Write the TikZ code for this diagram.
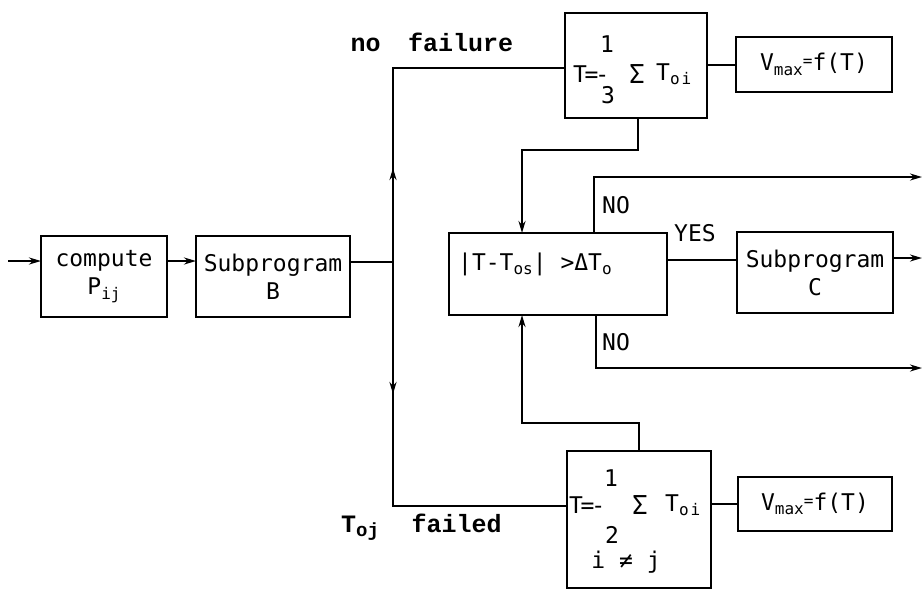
\documentclass[tikz,border=0pt]{standalone}
\usepackage{fontspec}
\newfontfamily\plotfont{DejaVu Sans Mono}
\newfontfamily\typefont{Liberation Mono}
\usetikzlibrary{arrows.meta,decorations.markings}
\newcommand{\lsub}[1]{\raisebox{-0.35ex}{\fontsize{16}{16}\selectfont #1}}
\newcommand{\hsup}[1]{\raisebox{0.35ex}{\fontsize{16}{16}\selectfont #1}}
\begin{document}
\begin{tikzpicture}[x=1pt,y=-1pt,
  box/.style={draw, line width=2pt, inner sep=0pt, outer sep=0pt, anchor=north west,
    align=center, font=\plotfont\fontsize{23}{28}\selectfont},
  txt/.style={inner sep=0pt, font=\plotfont\fontsize{23}{28}\selectfont},
  sig/.style={inner sep=0pt, font=\plotfont\fontsize{26}{28}\selectfont},
  lbl/.style={inner sep=0pt, font=\typefont\bfseries\fontsize{25}{28}\selectfont},
  ln/.style={line width=2pt},
  arr/.style={line width=2pt, -{Stealth[length=12pt,width=7pt]}},
  tip/.style={line width=2pt, postaction={decorate}, decoration={markings,
    mark=at position #1 with {\arrow{Stealth[length=12pt,width=7pt]}}}}
]
\useasboundingbox (0,0) rectangle (924,590);

% boxes
\node[box, minimum width=126pt, minimum height=81pt] (b1) at (41,236) {compute\\P\lsub{ij}};
\node[box, minimum width=154pt, minimum height=81pt] (b2) at (196,236) {Subprogram\\B};
\node[box, minimum width=142pt, minimum height=105pt] (ftop) at (565,13) {};
\node[box, minimum width=156pt, minimum height=55pt] (vtop) at (736,37) {V\lsub{max}\hsup{=}f(T)};
\node[box, minimum width=218pt, minimum height=82pt] (dec) at (449,233) {};
\node[box, minimum width=156pt, minimum height=81pt] (c) at (737,232) {Subprogram\\C};
\node[box, minimum width=144pt, minimum height=137pt] (fbot) at (567,451) {};
\node[box, minimum width=154pt, minimum height=54pt] (vbot) at (738,477) {V\lsub{max}\hsup{=}f(T)};

% texts inside
\node[txt, anchor=west] (dtext) at (458,264) {|T-T\lsub{os}| >ΔT\lsub{o}};
\node[txt] (tone) at (607,44) {1};
\node[txt, anchor=west] (trow) at (573,74) {T\kern-2.5pt=\kern-3pt-};
\node[sig] (tsig) at (637,74) {Σ};
\node[txt, anchor=west] (tsum) at (656,74) {T\lsub{o\kern2pt i}};
\node[txt] (tthree) at (608,95) {3};
\node[txt] (bone) at (611,478) {1};
\node[txt, anchor=west] (brow) at (569,505) {T\kern-2.5pt=\kern-3pt-};
\node[sig] (bsig) at (640,505) {Σ};
\node[txt, anchor=west] (bsum) at (665,505) {T\lsub{o\kern2pt i}};
\node[txt] (btwo) at (612,535) {2};
\node[txt] (bneq) at (626,562) {i ≠ j};

% labels
\node[lbl] (nofail) at (432,42) {no\hspace{0.5em} failure};
\node[lbl, anchor=west] (tfail) at (341,527) {T\raisebox{-0.3ex}{\fontsize{19}{19}\selectfont oj}\hspace{1.3em}failed};
\node[txt, anchor=west] (no1) at (602,205) {NO};
\node[txt] (yes) at (695,233) {YES};
\node[txt, anchor=west] (no2) at (602,342) {NO};

% coordinates
\coordinate (in) at (8,261);
\coordinate (J) at (393,262);
\coordinate (topy) at (0,68);
\coordinate (boty) at (0,506);
\coordinate (ax) at (522,0);
\coordinate (nx) at (594,0);
\coordinate (nx2) at (596,0);
\coordinate (yl) at (0,260);
\coordinate (e1) at (922,177);
\coordinate (e2) at (922,258);
\coordinate (e3) at (922,368);

% connectors
\draw[arr] (in) -- (in -| b1.west);
\draw[arr] (b1.east |- in) -- (b2.west |- in);
\draw[ln] (b2.east |- J) -- (J);
\draw[tip=94pt] (J) |- (topy -| ftop.west);
\draw[tip=132pt] (J) |- (boty -| fbot.west);
\draw[arr] (ftop.south -| 638,0) -- ++(0,32) -| (dec.north -| ax);
\draw[arr] (fbot.north) -- ++(0,-28) -| (dec.south -| ax);
\draw[arr] (dec.north -| nx) |- (e1);
\draw[ln] (dec.east |- yl) -- (c.west |- yl);
\draw[arr] (c.east |- e2) -- (e2);
\draw[arr] (dec.south -| nx2) |- (e3);
\draw[ln] (vtop.west -| ftop.east) -- (vtop.west);
\draw[ln] (vbot.west -| fbot.east) -- (vbot.west);
\end{tikzpicture}
\end{document}
